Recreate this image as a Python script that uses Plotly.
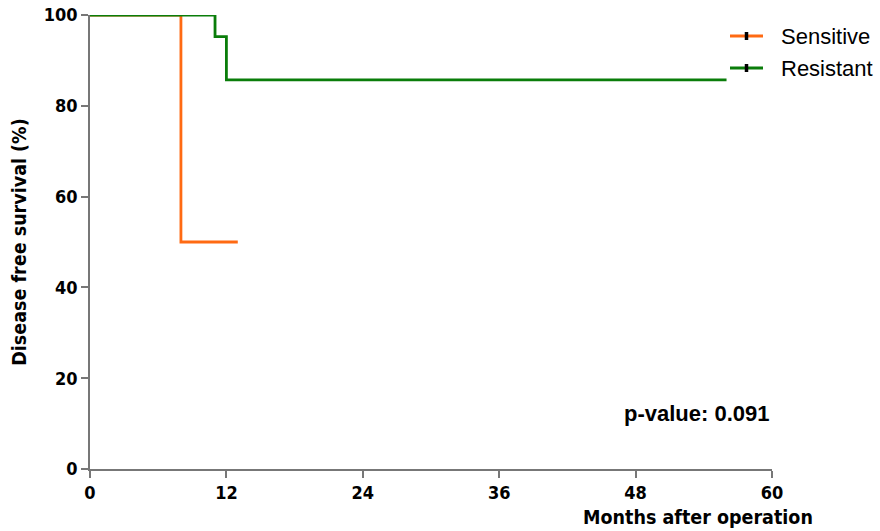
import plotly.graph_objects as go

# Kaplan-Meier step data (months, % disease free)
sens_months = [0, 8, 8, 13]
sens_surv = [100, 100, 50, 50]
res_months = [0, 11, 11, 12, 12, 56]
res_surv = [100, 100, 95.24, 95.24, 85.71, 85.71]

x_ticks = [0, 12, 24, 36, 48, 60]
y_ticks = [0, 20, 40, 60, 80, 100]

group_names = ["Sensitive", "Resistant"]
ORANGE = "#FF6A13"
GREEN = "#0A7D0A"
group_colors = [ORANGE, GREEN]

COND = "DejaVu Sans Condensed"
TICK_FONT = dict(family=COND, size=18, color="black")

W, H = 880, 531
L, R, T, B = 90, 108, 15, 62
plot_w = W - L - R
plot_h = H - T - B


def px_x(px):
    return (px - L) / plot_w


def px_y(py):
    return (T + plot_h - py) / plot_h


fig = go.Figure()
for xs, ys, name, col in [(sens_months, sens_surv, group_names[0], ORANGE),
                          (res_months, res_surv, group_names[1], GREEN)]:
    fig.add_trace(go.Scatter(x=xs, y=ys, mode="lines", name=name,
                             line=dict(color=col, width=2.8), showlegend=False))

# hand-drawn legend: coloured line, black censor tick, label
for i, (name, col) in enumerate(zip(group_names, group_colors)):
    cy = 36 + 32 * i
    fig.add_shape(type="line", xref="paper", yref="paper",
                  x0=px_x(730), x1=px_x(763), y0=px_y(cy), y1=px_y(cy),
                  line=dict(color=col, width=2.8))
    fig.add_shape(type="line", xref="paper", yref="paper",
                  x0=px_x(746.5), x1=px_x(746.5), y0=px_y(cy - 4), y1=px_y(cy + 4),
                  line=dict(color="black", width=3.5))
    fig.add_annotation(x=px_x(779), y=px_y(cy), xref="paper", yref="paper",
                       text=name, showarrow=False, xanchor="left", yanchor="middle",
                       font=dict(family="Liberation Sans", size=22, color="black"))

fig.add_annotation(x=60, y=12.3, xref="x", yref="y", text="<b>p-value: 0.091</b>",
                   showarrow=False, xanchor="right", yanchor="middle",
                   font=dict(family="Liberation Sans", size=22, color="black"))
fig.add_annotation(x=px_x(815), y=px_y(517), xref="paper", yref="paper",
                   text="<b>Months after operation</b>", showarrow=False,
                   xanchor="right", yanchor="middle",
                   font=dict(family=COND, size=19.5, color="black"))

fig.update_layout(
    width=W, height=H,
    margin=dict(l=L, r=R, t=T, b=B, autoexpand=False),
    paper_bgcolor="white", plot_bgcolor="white",
    showlegend=False,
    xaxis=dict(range=[0, 60], tickvals=x_ticks, automargin=False,
               ticktext=[f"<b>{v}</b>" for v in x_ticks],
               showgrid=False, zeroline=False, showline=True, linecolor="#777",
               linewidth=1.5, ticks="outside", ticklen=7, tickcolor="#777",
               tickwidth=1.5, tickfont=TICK_FONT),
    yaxis=dict(range=[0, 100], tickvals=y_ticks, automargin=False,
               ticktext=[f"<b>{v}</b>" for v in y_ticks],
               showgrid=False, zeroline=False, showline=True, linecolor="#777",
               linewidth=1.5, ticks="outside", ticklen=7, tickcolor="#777",
               tickwidth=1.5, tickfont=TICK_FONT,
               title=dict(text="<b>Disease free survival (%)</b>", standoff=12,
                          font=dict(family=COND, size=19.5, color="black"))),
)

fig.write_html("out.html")
